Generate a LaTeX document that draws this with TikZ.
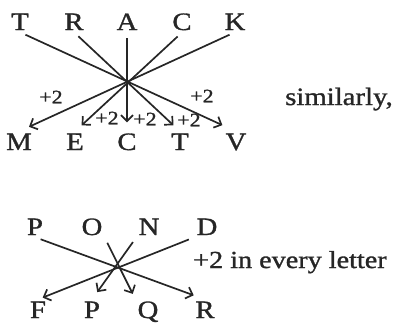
\documentclass[tikz,border=0pt]{standalone}
\usepackage{fontspec}
\setmainfont{Liberation Serif}[FakeStretch=1.15, FakeBold=1.2]
\usetikzlibrary{arrows.meta}

\begin{document}
\begin{tikzpicture}[x=1pt, y=-1pt, every node/.style={inner sep=2pt, text=black!85},
  letter/.style={font=\fontsize{25}{25}\selectfont, anchor=base},
  plus/.style={font=\fontsize{19}{19}\selectfont},
  arr/.style={draw=black!85, line width=1.7pt, ->, shorten <=6pt, shorten >=9pt},
  >={Straight Barb[length=6pt,width=12pt]}]
\useasboundingbox (0,0) rectangle (395,322);
\node[letter] (t1) at (20,30) {T};
\node[letter] (t2) at (74,30) {R};
\node[letter] (t3) at (127,30) {A};
\node[letter] (t4) at (182,30) {C};
\node[letter] (t5) at (235,30) {K};
\node[letter] (b1) at (19,150) {M};
\node[letter] (b2) at (75,150) {E};
\node[letter] (b3) at (127,150) {C};
\node[letter] (b4) at (180,150) {T};
\node[letter] (b5) at (236,150) {V};
\draw[arr, shorten >=15pt] (t1.south)--(b5.north); \draw[arr] (t2.south)--(b4.north);
\draw[arr] (t3.south)--(b3.north); \draw[arr] (t4.south)--(b2.north);
\draw[arr, shorten >=11pt] (t5.south)--(b1.north);
\node[plus] (p1) at (51,97) {+2};
\node[plus] (p2) at (107,118) {+2};
\node[plus] (p3) at (145,119) {+2};
\node[plus] (p4) at (189,120) {+2};
\node[plus] (p5) at (202,96) {+2};
\node[letter, anchor=base west] (similar) at (283,105) {similarly,};
\node[letter] (u1) at (35,235) {P};
\node[letter] (u2) at (92,235) {O};
\node[letter] (u3) at (149,235) {N};
\node[letter] (u4) at (207,235) {D};
\node[letter] (v1) at (38,318) {F};
\node[letter] (v2) at (92,318) {P};
\node[letter] (v3) at (148,318) {Q};
\node[letter] (v4) at (205,318) {R};
\draw[arr, shorten >=12pt] (u1.south)--(v4.north); \draw[arr, shorten >=6pt] (u2.south east)--(v3.north west);
\draw[arr] (u3.south west)--(v2.north); \draw[arr, shorten >=5pt] (u4.south west)--(v1.north);
\node[letter, anchor=base west, inner sep=0pt, font=\fontsize{24.5}{25}\selectfont] (rule) at (193,268) {+2 in every letter};
\end{tikzpicture}
\end{document}
